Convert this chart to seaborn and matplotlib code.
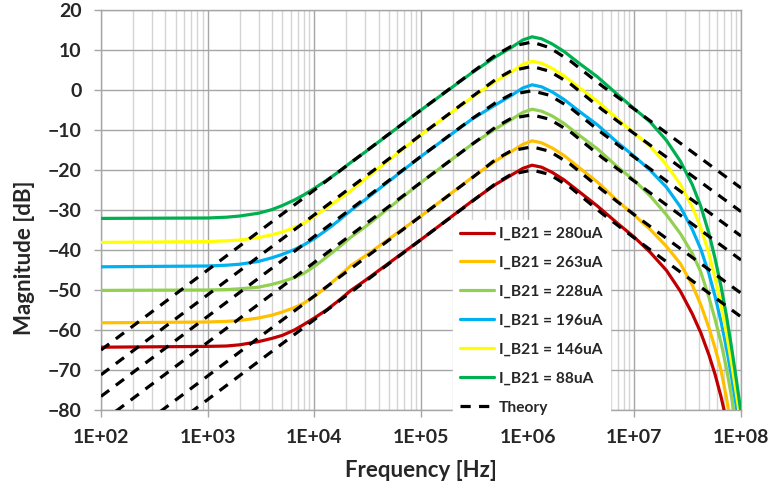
"""
Respuesta en frecuencia: magnitud medida vs. teoría para distintos I_B21
"""
import numpy as np
import pandas as pd
import matplotlib
matplotlib.use("Agg")
import matplotlib.pyplot as plt
from matplotlib.lines import Line2D
from matplotlib.ticker import LogLocator, FixedLocator, FixedFormatter, NullFormatter
import seaborn as sns

freq = [1e2, 1e3, 1.5e3, 2e3, 3e3, 4e3, 5e3, 6.5e3, 8e3, 1e4, 1.3e4, 1.7e4, 2.2e4, 3e4,
        1e5, 3e5, 5e5, 7e5, 9e5, 1.1e6, 1.35e6, 1.7e6, 2.2e6, 3e6, 4.5e6, 7e6,
        1e7, 1.4e7, 2e7, 2.7e7, 3.5e7, 4.2e7, 5e7, 5.7e7, 6.5e7, 7.3e7, 8.2e7, 9.1e7, 1e8]

mag_280 = [-64.3, -64.1, -64.0, -63.7, -62.9, -62.1, -61.35, -60.0, -58.6, -57.0, -55.0, -52.6, -50.1, -47.6,
           -37.4, -27.8, -23.6, -21.3, -19.6, -18.8, -19.3, -20.6, -22.5, -25.3, -29.0, -33.4,
           -36.8, -40.5, -45.1, -50.3, -56.0, -60.7, -66.2, -71.0, -76.7, -82.6, -89.5, -95.8, -102.0]
mag_263 = [-58.2, -58.0, -57.85, -57.6, -57.0, -56.3, -55.5, -54.4, -53.3, -51.6, -49.3, -46.6, -43.9, -41.5,
           -31.5, -21.9, -17.7, -15.4, -13.6, -12.7, -13.2, -14.5, -16.4, -19.3, -23.0, -27.8,
           -31.3, -34.8, -39.1, -43.4, -48.8, -53.7, -59.4, -64.4, -70.1, -76.9, -85.1, -93.0, -100.0]
mag_228 = [-50.1, -50.0, -49.9, -49.7, -49.3, -48.6, -47.9, -46.9, -45.8, -44.1, -41.8, -39.3, -36.8, -34.2,
           -23.1, -13.6, -9.7, -7.4, -5.6, -4.8, -5.3, -6.5, -8.4, -11.2, -14.7, -19.3,
           -22.6, -26.4, -31.2, -35.9, -40.9, -45.5, -51.8, -57.2, -63.2, -69.5, -77.1, -84.7, -92.0]
mag_196 = [-44.2, -44.0, -43.8, -43.55, -42.85, -41.95, -41.1, -39.9, -38.7, -37.15, -35.0, -32.6, -30.1, -27.4,
           -16.6, -7.3, -3.7, -1.4, 0.5, 1.3, 0.8, -0.5, -2.4, -5.2, -8.7, -13.2,
           -16.6, -20.0, -24.3, -29.2, -34.9, -39.8, -45.9, -51.5, -57.9, -64.4, -72.1, -79.5, -86.5]
mag_146 = [-38.1, -37.9, -37.7, -37.5, -36.9, -36.2, -35.5, -34.4, -33.3, -31.6, -29.5, -27.3, -25.2, -22.2,
           -11.2, -1.9, 2.2, 4.5, 6.4, 7.2, 6.7, 5.4, 3.5, 0.7, -2.8, -7.3,
           -10.8, -14.0, -18.7, -23.6, -29.3, -34.4, -40.9, -46.9, -53.7, -60.7, -68.6, -76.3, -83.7]
mag_88 = [-32.1, -32.0, -31.8, -31.5, -30.8, -29.9, -28.9, -27.5, -26.2, -24.6, -22.6, -20.4, -18.1, -15.5,
          -5.0, 4.3, 8.3, 10.6, 12.5, 13.3, 12.8, 11.5, 9.6, 6.8, 3.3, -1.2,
          -4.7, -7.9, -12.6, -17.8, -23.7, -29.1, -35.8, -42.0, -49.1, -56.4, -64.8, -72.9, -80.7]

# --- curvas teóricas ---
freq_theory = [1e2, 1e3, 1e4, 1e5, 3e5, 5e5, 7e5, 1.1e6, 1.6e6, 2.5e6, 5e6, 1e7, 1e8]

theory_280 = [-97.4, -77.4, -57.4, -37.4, -27.9, -23.4, -21.1, -20.0, -21.1, -24.3, -30.9, -37.0, -56.7]
theory_263 = [-91.5, -71.5, -51.5, -31.5, -22.0, -17.4, -15.2, -14.2, -15.3, -18.5, -25.0, -31.2, -50.8]
theory_228 = [-83.1, -63.1, -43.1, -23.1, -13.6, -9.3, -7.1, -6.2, -7.3, -10.4, -16.9, -22.8, -42.5]
theory_196 = [-76.6, -56.6, -36.6, -16.6, -7.2, -3.2, -1.1, -0.2, -1.3, -4.4, -10.8, -16.8, -36.5]
theory_146 = [-71.2, -51.2, -31.2, -11.2, -1.7, 2.6, 4.8, 5.9, 4.7, 1.6, -4.9, -10.9, -30.4]
theory_88 = [-65.0, -45.0, -25.0, -5.0, 4.4, 8.7, 10.9, 12.0, 10.6, 7.3, 1.0, -4.8, -24.5]

labels = ["I_B21 = 280uA", "I_B21 = 263uA", "I_B21 = 228uA",
          "I_B21 = 196uA", "I_B21 = 146uA", "I_B21 = 88uA"]
colores = ["#C00000", "#FFC000", "#92D050", "#00B0F0", "#FFFF00", "#00B050"]

x_ticks = [1e2, 1e3, 1e4, 1e5, 1e6, 1e7, 1e8]
x_ticklabels = ["1E+02", "1E+03", "1E+04", "1E+05", "1E+06", "1E+07", "1E+08"]
y_ticks = [20, 10, 0, -10, -20, -30, -40, -50, -60, -70, -80]

medidas = [mag_280, mag_263, mag_228, mag_196, mag_146, mag_88]
teorias = [theory_280, theory_263, theory_228, theory_196, theory_146, theory_88]

sns.set_style("white")
plt.rcParams['font.family'] = ['Lato', 'DejaVu Sans']
plt.rcParams['font.weight'] = 'bold'

fig = plt.figure(figsize=(7.71, 4.88), dpi=100)
ax = fig.add_axes([101 / 771, 1 - 410 / 488, 640 / 771, 400 / 488])

# curvas medidas
for lab, col, mag in zip(labels, colores, medidas):
    df = pd.DataFrame({'Frecuencia': freq, 'Magnitud': mag})
    sns.lineplot(data=df, x='Frecuencia', y='Magnitud', color=col, lw=2.3,
                 sort=False, estimator=None, ax=ax, zorder=3)

# curvas teóricas
for teo in teorias:
    df = pd.DataFrame({'Frecuencia': freq_theory, 'Magnitud': teo})
    sns.lineplot(data=df, x='Frecuencia', y='Magnitud', color='black', lw=2.3,
                 sort=False, estimator=None, ax=ax, zorder=4)
    ax.lines[-1].set_dashes([3.2, 2.6])

ax.set_xscale('log')
ax.set_xlim(1e2, 1e8)
ax.set_ylim(-80, 20)

ax.xaxis.set_major_locator(FixedLocator(x_ticks))
ax.xaxis.set_major_formatter(FixedFormatter(x_ticklabels))
ax.xaxis.set_minor_locator(LogLocator(base=10, subs=np.arange(2, 10), numticks=100))
ax.xaxis.set_minor_formatter(NullFormatter())
ax.set_yticks(y_ticks)

ax.grid(which='major', color='#a6a6a6', lw=1.0, zorder=0)
ax.grid(which='minor', axis='x', color='#d4d4d4', lw=1.0, zorder=0)
ax.set_axisbelow(True)
for s in ax.spines.values():
    s.set_color('#a6a6a6')
    s.set_linewidth(1.0)

ax.tick_params(axis='both', which='major', length=5, width=1, color='#a6a6a6',
               labelsize=14, pad=9, direction='out', bottom=True, left=True)
ax.tick_params(axis='x', which='minor', length=0)
for t in ax.get_xticklabels() + ax.get_yticklabels():
    t.set_fontweight('bold')

ax.set_xlabel('Frequency [Hz]', fontsize=16, fontweight='bold')
ax.set_ylabel('Magnitude [dB]', fontsize=16, fontweight='bold')
ax.xaxis.set_label_coords(0.5, -0.125)
ax.yaxis.set_label_coords(-0.103, 0.38)

handles = [Line2D([0], [0], color=c, lw=2.3) for c in colores]
handles.append(Line2D([0], [0], color='black', lw=2.3, dashes=[3.2, 2.6]))
leg = ax.legend(handles, labels + ['Theory'], loc='upper left', bbox_to_anchor=(0.55, 0.475),
                frameon=True, fancybox=False, framealpha=1, edgecolor='white',
                facecolor='white', fontsize=11.2, labelspacing=0.96, handlelength=2.2,
                handletextpad=0.3, borderpad=0.45, borderaxespad=0)
for t in leg.get_texts():
    t.set_fontweight('bold')
leg.set_zorder(10)

plt.savefig('out.png', dpi=100)
